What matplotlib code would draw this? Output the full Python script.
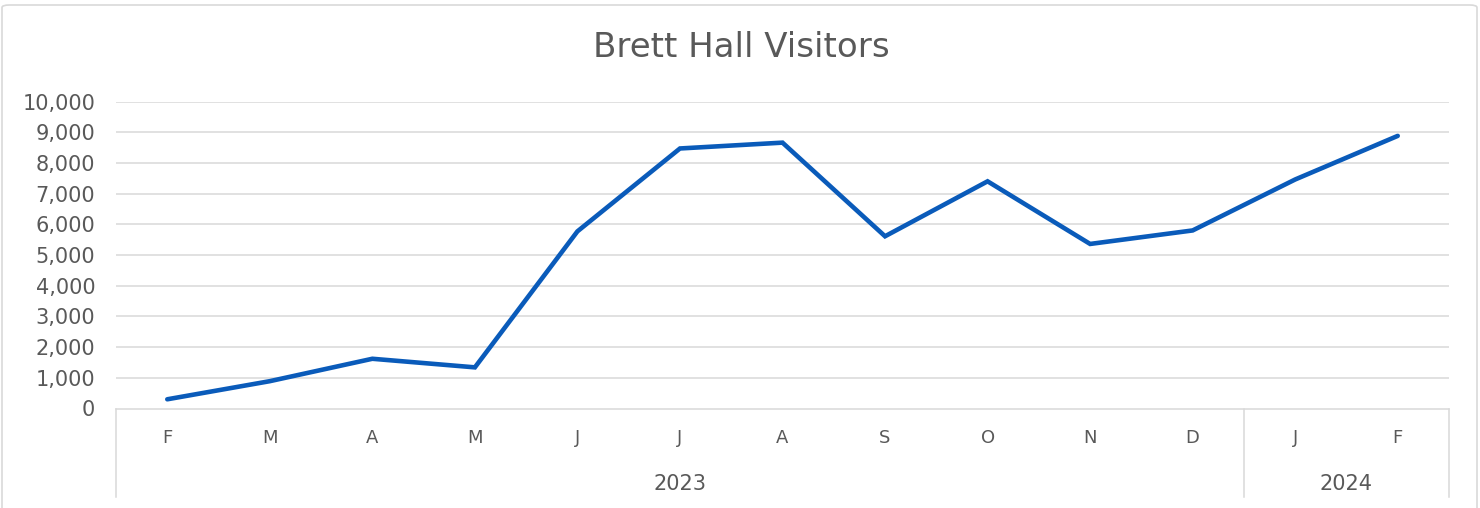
import matplotlib
matplotlib.use("Agg")
import matplotlib.pyplot as plt
from matplotlib.patches import FancyBboxPatch
from matplotlib.lines import Line2D
import matplotlib.transforms as mtransforms

months = ["F", "M", "A", "M", "J", "J", "A", "S", "O", "N", "D", "J", "F"]
years = ["2023", "2024"]
year_counts = [11, 2]
visitors = [300, 890, 1620, 1340, 5770, 8470, 8660, 5610, 7400, 5360, 5800, 7460, 8880]
y_ticks = [0, 1000, 2000, 3000, 4000, 5000, 6000, 7000, 8000, 9000, 10000]
title = "Brett Hall Visitors"

plt.rcParams['font.family'] = ['DejaVu Sans']
text_color = "#595959"
grid_color = "#D9D9D9"
line_color = "#0A5BBA"

W, H = 1480, 508
fig = plt.figure(figsize=(W / 100, H / 100), dpi=100)
fig.patch.set_facecolor("white")

left, right, top, bottom = 116, 1449, 101.5, 408.5
ax = fig.add_axes([left / W, 1 - bottom / H, (right - left) / W, (bottom - top) / H])

x = list(range(len(visitors)))
ax.plot(x, visitors, color=line_color, linewidth=3.3, solid_joinstyle="miter", solid_capstyle="round", zorder=3)
ax.set_xlim(-0.5, len(visitors) - 0.5)
ax.set_ylim(0, 10000)
ax.set_yticks(y_ticks)
ax.set_yticklabels([f"{v:,}" for v in y_ticks], fontsize=15, color=text_color)
ax.tick_params(axis="y", length=0, pad=15)
ax.set_xticks([])
for yv in y_ticks[1:]:
    ax.axhline(yv, color=grid_color, linewidth=1.1, zorder=1)
for s in ["top", "right", "left"]:
    ax.spines[s].set_visible(False)
ax.spines["bottom"].set_color(grid_color)
ax.spines["bottom"].set_linewidth(1.1)

trans = mtransforms.blended_transform_factory(ax.transData, ax.transAxes)
axh = bottom - top
month_y = -(438 - bottom) / axh
year_y = -(484 - bottom) / axh
sep_y = -(497 - bottom) / axh

for i, m in enumerate(months):
    ax.text(i, month_y, m, transform=trans, ha="center", va="center", fontsize=13, color=text_color)

start = 0
seps = [-0.5]
for yr, cnt in zip(years, year_counts):
    center = start + (cnt - 1) / 2
    ax.text(center, year_y, yr, transform=trans, ha="center", va="center", fontsize=15, color=text_color)
    start += cnt
    seps.append(start - 0.5)
for sx in seps:
    ax.add_line(Line2D([sx, sx], [0, sep_y], transform=trans, color=grid_color, linewidth=1.1, clip_on=False))

fig.text(741 / W, 1 - 47 / H, title, ha="center", va="center", fontsize=24.5, color=text_color)

border = FancyBboxPatch((2 / W, -10 / H), (W - 5) / W, (H + 5) / H, boxstyle="round,pad=0,rounding_size=0.005",
                        transform=fig.transFigure, facecolor="none", edgecolor=grid_color, linewidth=1.2)
fig.patches.append(border)

fig.savefig("out.png", dpi=100)
